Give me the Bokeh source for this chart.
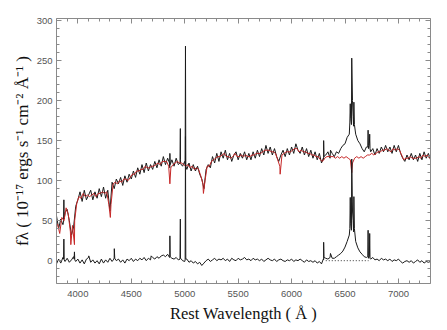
import numpy as np
from bokeh.plotting import figure
from bokeh.models import Range1d, LinearAxis, SingleIntervalTicker
from bokeh.embed import file_html
from bokeh.resources import INLINE

# wavelength sampling grids (Angstrom)
obs_wave = list(range(3800, 7301, 20))
model_wave = list(range(3810, 7291, 20))

# observed spectrum (black, upper)
obs_flux = [
    56, 40, 52, 45, 60,
    64, 50, 32, 42, 68,
    76, 86, 74, 88, 76,
    82, 88, 76, 86, 78,
    90, 80, 92, 78, 88,
    62, 98, 90, 102, 96,
    104, 94, 106, 98, 108,
    102, 112, 104, 116, 108,
    120, 110, 122, 112, 120,
    114, 124, 116, 126, 118,
    130, 120, 128, 116, 126,
    118, 128, 120, 126, 118,
    124, 114, 122, 112, 120,
    112, 118, 108, 102, 90,
    114, 120, 116, 130, 122,
    134, 124, 136, 128, 138,
    126, 134, 124, 132, 136,
    126, 134, 128, 136, 126,
    134, 126, 136, 128, 138,
    130, 140, 132, 144, 134,
    142, 132, 140, 130, 124,
    132, 138, 130, 140, 132,
    142, 134, 146, 138, 134,
    142, 132, 140, 130, 138,
    128, 136, 126, 134, 122,
    126, 132, 136, 128, 134,
    130, 136, 134, 140, 144,
    146, 154, 158, 170, 168,
    158, 150, 146, 140, 136,
    142, 140, 136, 140, 132,
    140, 134, 142, 136, 144,
    136, 142, 134, 144, 136,
    144, 134, 128, 124, 132,
    126, 134, 126, 132, 124,
    134, 126, 136, 128, 134,
    126,
]
obs_line_wave = [3866, 3869, 3872, 4858, 4861, 4864, 4956, 4959, 4962,
                 5004, 5007, 5010, 6297, 6300, 6303, 6364,
                 6545, 6549, 6553, 6563, 6570, 6576, 6583, 6588,
                 6713, 6716, 6719, 6728, 6731, 6734]
obs_line_flux = [48, 76, 52, 122, 134, 120, 122, 165, 121,
                 120, 268, 118, 128, 150, 130, 138,
                 172, 196, 178, 253, 200, 180, 198, 170,
                 142, 163, 144, 146, 158, 140]

# stellar model (red)
model_flux = [
    46, 34, 54, 50, 66,
    58, 36, 44, 50, 72,
    80, 78, 84, 80, 82,
    80, 82, 84, 80, 84,
    84, 86, 84, 86, 70,
    70, 96, 98, 96, 100,
    98, 102, 102, 100, 104,
    108, 108, 112, 112, 114,
    114, 118, 116, 116, 118,
    118, 120, 122, 120, 124,
    124, 124, 118, 116, 120,
    122, 124, 122, 122, 120,
    118, 120, 116, 118, 114,
    116, 114, 106, 96, 100,
    118, 118, 124, 126, 128,
    130, 130, 132, 134, 130,
    130, 128, 130, 134, 130,
    130, 132, 130, 132, 130,
    130, 132, 132, 134, 134,
    134, 136, 138, 138, 138,
    136, 136, 134, 126, 118,
    132, 134, 136, 136, 136,
    138, 140, 140, 136, 138,
    136, 136, 134, 134, 132,
    132, 130, 130, 126, 124,
    128, 130, 130, 130, 130,
    128, 130, 128, 130, 128,
    130, 128, 126, 122, 128,
    130, 128, 130, 128, 130,
    132, 132, 134, 132, 134,
    136, 136, 138, 138, 140,
    138, 136, 140, 138, 140,
    138, 132, 126, 128, 128,
    130, 128, 128, 128, 130,
    128, 132, 130, 132, 128,
]
model_line_wave = [3934, 3968, 4304, 4861, 5175, 5893, 6563]
model_line_flux = [20, 20, 54, 96, 84, 108, 110]

# residual emission-line spectrum (black, lower)
resid_flux = [
    -4, 2, -3, 4, -1,
    3, -2, 1, 5, -1,
    2, -3, 1, -4, 2,
    4, -2, 1, -3, 0,
    -4, 2, -3, 1, -2,
    3, -1, 4, 0, 2,
    -2, 1, -3, 2, 0,
    3, -1, 2, 0, 3,
    1, 4, 0, 3, 1,
    4, 2, 5, 3, 6,
    7, 5, 8, 4, 3,
    2, 4, 1, 3, 0,
    -1, 2, -2, 0, -3,
    -1, -4, -2, -6, -3,
    0, 2, -1, 1, 3,
    0, 2, 1, 3, 0,
    2, -1, 3, 1, 0,
    3, 1, 2, 4, 1,
    2, 0, 3, 1, 2,
    0, 2, -1, 1, 3,
    1, 0, 2, -1, 1,
    2, 0, -1, 1, 0,
    2, -1, 1, 0, 2,
    0, -2, 1, -1, 0,
    -2, 0, -3, -1, -4,
    1, 3, 2, 4, 3,
    3, 5, 7, 9, 12,
    17, 24, 32, 38, 36,
    24, 16, 11, 8, 5,
    4, 3, 2, 4, 1,
    2, 0, 3, 1, 2,
    0, 2, -1, 1, 0,
    2, -1, -3, -1, 0,
    -2, 0, -3, -1, 1,
    -2, 0, -3, -1, -2,
    -1,
]
resid_line_wave = [3866, 3869, 3872, 3965, 3968, 3971, 4102, 4337, 4341, 4345,
                   4686, 4858, 4861, 4864, 4956, 4959, 4962, 5004, 5007, 5010,
                   6297, 6300, 6303, 6364,
                   6545, 6549, 6553, 6563, 6570, 6576, 6583, 6588,
                   6713, 6716, 6719, 6728, 6731, 6734]
resid_line_flux = [2, 27, 1, 2, 11, 1, 6, 2, 15, 3,
                   6, 4, 31, 5, 2, 52, 3, 1, 155, 2,
                   2, 23, 4, 9,
                   40, 79, 46, 127, 62, 50, 80, 40,
                   5, 38, 6, 5, 34, 3]

# zero level under the broad H-alpha wing
zero_wave = [6320, 6720]
zero_flux = [0, 0]

x_tick_interval = 500
y_tick_interval = 50


def merge(gw, gf, lw, lf):
    w = np.array(list(gw) + list(lw), dtype=float)
    f = np.array(list(gf) + list(lf), dtype=float)
    order = np.argsort(w, kind="stable")
    return w[order], f[order]


ow, of = merge(obs_wave, obs_flux, obs_line_wave, obs_line_flux)
mw, mf = merge(model_wave, model_flux, model_line_wave, model_line_flux)
rw, rf = merge(obs_wave, resid_flux, resid_line_wave, resid_line_flux)

p = figure(width=447, height=330,
           x_range=Range1d(3800, 7300), y_range=Range1d(-28.5, 302.5),
           output_backend="svg", toolbar_location=None,
           min_border_left=56, min_border_right=17,
           min_border_top=18, min_border_bottom=47,
           x_axis_label="Rest Wavelength ( Å )",
           y_axis_label="fλ ( 10⁻¹⁷ ergs s⁻¹ cm⁻² Å⁻¹ )")
p.outline_line_color = None
p.xgrid.visible = False
p.ygrid.visible = False
p.background_fill_color = "white"
p.border_fill_color = "white"

AX = "#8a8a8a"


def style(ax, ticker, labels=True):
    ax.ticker = ticker
    ax.axis_line_color = AX
    ax.major_tick_line_color = AX
    ax.minor_tick_line_color = AX
    ax.major_tick_in = 5
    ax.major_tick_out = 0
    ax.minor_tick_in = 3
    ax.minor_tick_out = 0
    ax.major_label_text_font = "Liberation Sans"
    if labels:
        ax.major_label_text_font_size = "9.5px"
        ax.major_label_text_color = "#555555"
    else:
        ax.major_label_text_font_size = "1px"
        ax.major_label_text_color = None
        ax.major_label_standoff = 0
    ax.axis_label_text_font = "Liberation Serif"
    ax.axis_label_text_font_style = "normal"
    ax.axis_label_text_color = "#111111"


style(p.xaxis[0], SingleIntervalTicker(interval=x_tick_interval, num_minor_ticks=5))
style(p.yaxis[0], SingleIntervalTicker(interval=y_tick_interval, num_minor_ticks=5))
p.xaxis[0].axis_label_text_font_size = "16.5px"
p.yaxis[0].axis_label_text_font_size = "17px"
p.xaxis[0].major_label_standoff = 7
p.xaxis[0].axis_label_standoff = 4
p.yaxis[0].major_label_standoff = 4
p.yaxis[0].axis_label_standoff = 2

top = LinearAxis()
style(top, SingleIntervalTicker(interval=x_tick_interval, num_minor_ticks=5), labels=False)
p.add_layout(top, "above")
right = LinearAxis()
style(right, SingleIntervalTicker(interval=y_tick_interval, num_minor_ticks=5), labels=False)
p.add_layout(right, "right")

p.line(ow, of, line_color="#1a1a1a", line_width=1)
p.line(mw, mf, line_color="#c62828", line_width=1)
p.line(rw, rf, line_color="#1a1a1a", line_width=1)
p.line(zero_wave, zero_flux, line_color="#333333", line_width=1, line_dash="1 2")

open("out.html", "w").write(file_html(p, INLINE))
